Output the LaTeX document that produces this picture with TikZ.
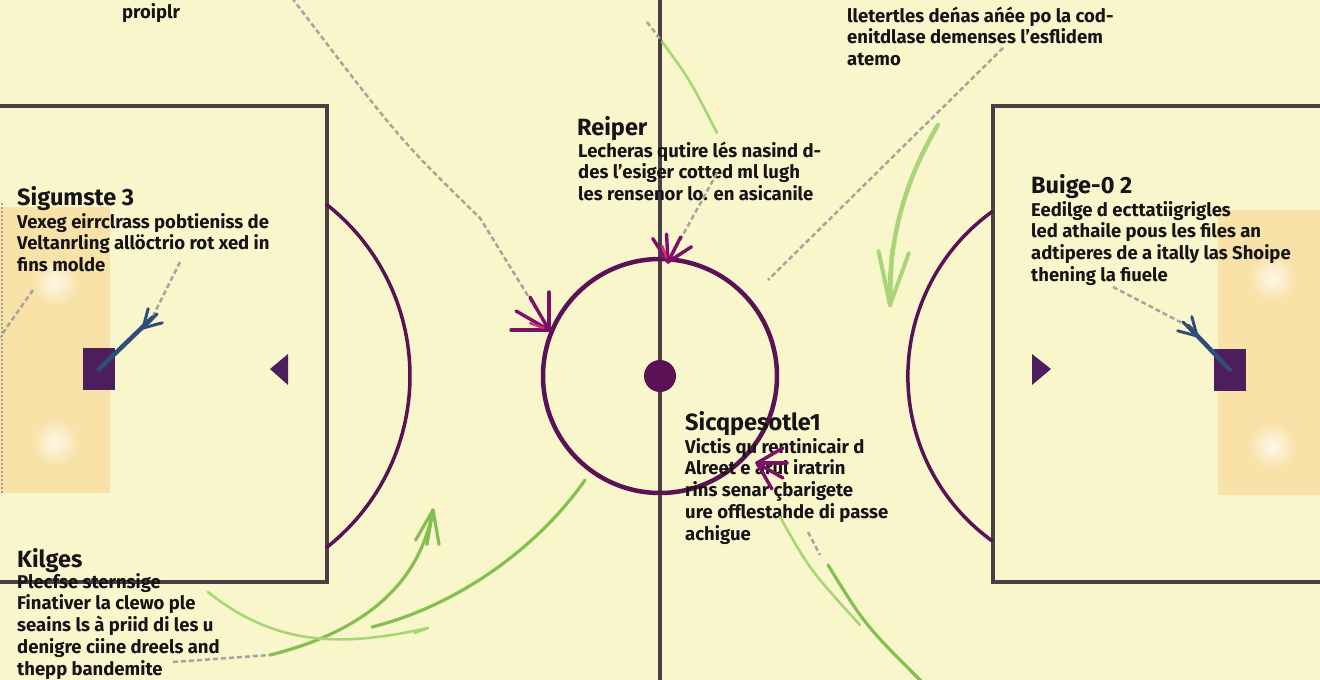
\documentclass[tikz,border=0pt]{standalone}
\usepackage{fontspec}
\setmainfont{Fira Sans}
\definecolor{bg}{RGB}{250,246,204}
\definecolor{boxc}{RGB}{72,64,68}
\definecolor{purp}{RGB}{90,18,84}
\definecolor{sqc}{RGB}{78,30,92}
\definecolor{magc}{RGB}{125,15,105}
\definecolor{pinkc}{RGB}{215,45,105}
\definecolor{orng}{RGB}{248,226,168}
\definecolor{grn}{RGB}{132,192,80}
\definecolor{lgrn}{RGB}{168,214,118}
\definecolor{dgray}{RGB}{165,165,160}
\definecolor{bluec}{RGB}{45,78,118}
\definecolor{ink}{RGB}{22,20,20}
\newcommand\fanat[4]{%
  \foreach \d in {-45,-15,15,45}{\draw[#3, line width=3.4, line cap=round] (#1) -- ++({#2+\d}:#4);}}
\begin{document}
\begin{tikzpicture}[x=1pt,y=-1pt,
  title/.style={anchor=base west, inner sep=0, font=\fontsize{23.5}{26}\selectfont\bfseries, text=ink},
  body/.style={anchor=base west, inner sep=0, align=left, font=\fontsize{18.5}{21.8}\selectfont\bfseries, text=ink},
  boxline/.style={draw=boxc, line width=3.5},
  dline/.style={draw=dgray, line width=2.5, dash pattern=on 5pt off 3pt},
  gline/.style={draw=grn, line width=3.2, line cap=round},
  lgline/.style={draw=lgrn, line width=2.6, line cap=round},
  sq/.style={fill=sqc, minimum width=32, minimum height=42, inner sep=0},
]
\useasboundingbox (0,0) rectangle (1320,680);
\fill[bg] (0,0) rectangle (1320,680);

% goal area shading
\fill[orng] (0,207) rectangle (110,493);
\fill[orng] (1218,210) rectangle (1320,495);
\foreach \p in {(55,282),(55,442),(1272,278),(1272,446)}{
  \shade[inner color=orng!25!white, outer color=orng] \p circle[radius=24];}
\draw[dgray, line width=1.2, dash pattern=on 2pt off 2pt] (2,203) -- (2,493);

% boxes and center line
\draw[boxline] (-5,106) rectangle (327,582);
\draw[boxline] (993,106) rectangle (1325,582);
\draw[boxline] (660,-5) -- (660,685);

% arcs
\draw[purp, line width=3.5] (326.2,204.2) arc[start angle=-52, end angle=52, radius=218];
\draw[purp, line width=3.5] (993,211) arc[start angle=234.5, end angle=125.5, radius=203];

% center circle
\draw[purp, line width=4.5] (660,376) circle[radius=117];
\fill[purp] (660,376) circle[radius=16];

% squares and triangles
\node[sq] (lsq) at (99,369) {};
\node[sq] (rsq) at (1230,370) {};
\fill[sqc] (270,369) -- (288,354) -- (288,385) -- cycle;
\fill[sqc] (1051,369) -- (1032,354) -- (1032,385) -- cycle;

% texts (base anchor = baseline of the last line)
\node[body] (tp) at (122,19) {proiplr};
\node[body] (ttr) at (847,65.6) {lletertles deńas ańée po la cod-\\enitdlase demenses l'esflidem\\atemo};
\node[title] (h1) at (17,205) {Sigumste 3};
\node[body] (b1) at (17,271.6) {Vexeg eirrclrass pobtieniss de\\Veltanrling allöctrio rot xed in\\fins molde};
\node[title] (h2) at (577,135) {Reiper};
\node[body] (b2) at (578,200.6) {Lecheras qutire lés nasind d-\\des l'esiger cotted ml lugh\\les rensenor lo. en asicanile};
\node[title] (h3) at (1031,193) {Buige-0 2};
\node[body] (b3) at (1031,281.4) {Eedilge d ecttatiigrigles\\led athaile pous les files an\\adtiperes de a itally las Shoipe\\thening la fiuele};
\node[title] (h4) at (685,430) {Sicqpesotle1};
\node[body] (b4) at (685,540.2) {Victis qu rentinicair d\\Alreet e arul iratrin\\rins senar çbarigete\\ure offlestahde di passe\\achigue};
\node[title] (h5) at (17,567) {Kilges};
\node[body] (b5) at (17,675.2) {Plecfse sternsige\\Finativer la clewo ple\\seains ls à priid di les u\\denigre ciine dreels and\\thepp bandemite};

% coordinates
\coordinate (a1s) at (292,-2);
\coordinate (a1m) at (480,218);
\coordinate (a1t) at (549,330);
\coordinate (a2s) at (717,173);
\coordinate (a2t) at (668,262);
\coordinate (a3s) at (1003,48);
\coordinate (a3t) at (768,280);
\coordinate (a4t) at (757,463);
\coordinate (lf) at (152,318);
\coordinate (l1s) at (180,262);
\coordinate (rf) at (1188,326);
\coordinate (r1s) at (1113,287);
\coordinate (e1s) at (33,290);
\coordinate (e1t) at (0,337);
\coordinate (k1s) at (173,662);
\coordinate (g1s) at (270,655);
\coordinate (g1t) at (433,510);
\coordinate (g2s) at (372,627);
\coordinate (g2t) at (585,480);
\coordinate (g3s) at (208,592);
\coordinate (g3t) at (428,628);
\coordinate (g4s) at (938,125);
\coordinate (g4t) at (890,305);
\coordinate (g5a) at (647,22);
\coordinate (g5s) at (663,43);
\coordinate (g5t) at (717,133);
\coordinate (g6s) at (780,517);
\coordinate (g6t) at (860,625);
\coordinate (g7s) at (828,565);
\coordinate (g7t) at (922,682);
\coordinate (d6s) at (808,532);
\coordinate (d6t) at (820,555);

% dashed connectors
\draw[dline] (a1s) .. controls (400,140) .. (a1m) -- (a1t);
\draw[dline] (a2s) -- (a2t);
\draw[dline] (a3s) -- (a3t);
\draw[dline] (l1s) -- (lf);
\draw[dline] (r1s) -- (rf);
\draw[dline] (e1s) -- (e1t);
\draw[dline] (k1s) -- (g1s);
\draw[dline] (g5a) -- (g5s);
\draw[dline] (d6s) -- (d6t);

% magenta fan heads
\fanat{a1t}{225}{magc}{38}
\draw[pinkc, line width=2.5, line cap=round] (a1t) ++(200:6) -- ++(200:14);
\fanat{a2t}{282}{magc}{28}
\draw[pinkc, line width=2.5, line cap=round] (a2t) ++(250:5) -- ++(250:12);
\fanat{a4t}{15}{magc}{30}

% blue arrows into squares
\draw[bluec, line width=4.5, line cap=round] (lf) -- (lsq.center);
\foreach \a in {285,315,345}{\draw[bluec, line width=3, line cap=round] (143,328) -- ++(\a:20);}
\draw[bluec, line width=4.5, line cap=round] (rf) -- (rsq.center);
\foreach \a in {195,225,255}{\draw[bluec, line width=3, line cap=round] (1197,336) -- ++(\a:20);}

% green arrows
\draw[gline] (g1s) .. controls (370,630) and (420,580) .. (g1t);
\foreach \a in {80,100,120}{\draw[gline] (g1t) -- ++(\a:35);}
\draw[gline] (g2s) .. controls (460,605) and (540,545) .. (g2t);
\draw[lgline] (g3s) .. controls (280,650) and (350,645) .. (g3t);
\draw[lgline] (g3t) -- ++(160:14);
\draw[lgline, line width=4.5] (g4s) .. controls (905,180) and (888,240) .. (g4t);
\foreach \a in {258,272,290}{\draw[lgline, line width=4] (g4t) -- ++(\a:55);}
\draw[lgline] (g5s) .. controls (690,80) .. (g5t);
\draw[lgline] (g6s) .. controls (810,570) .. (g6t);
\draw[gline] (g7s) .. controls (865,625) .. (g7t);
\end{tikzpicture}
\end{document}
